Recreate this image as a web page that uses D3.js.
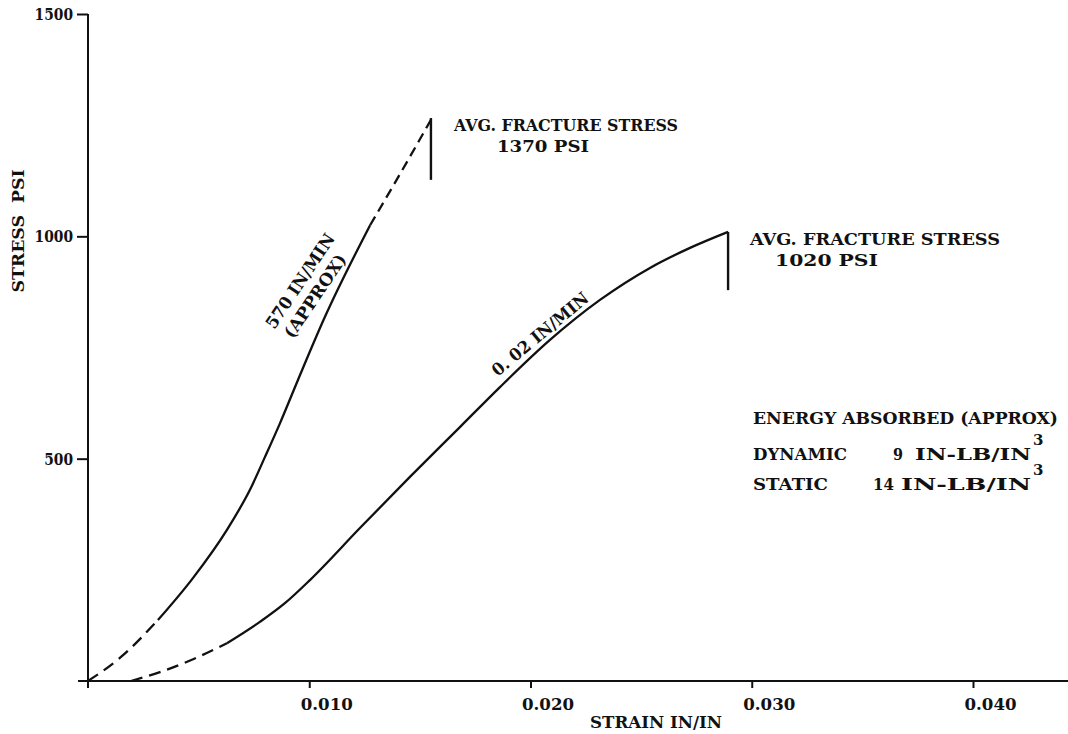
<!DOCTYPE html>
<html>
<head>
<meta charset="utf-8">
<script src="https://cdn.jsdelivr.net/npm/d3@7"></script>
<style>
  body { margin: 0; background: #fff; }
  text { font-family: "DejaVu Serif", "Liberation Serif", serif; fill: #111; }
</style>
</head>
<body>
<svg id="chart" width="1068" height="734"></svg>
<script>
// Stress-strain curves, 570 in/min (dynamic) and 0.02 in/min (static)
const dynamicStrain = [0, 0.00149, 0.00316, 0.00475, 0.00628, 0.00732, 0.00800, 0.00868, 0.00949, 0.01071, 0.01275, 0.01410, 0.01550];
const dynamicStress = [0, 54, 137, 232, 340, 430, 504, 580, 677, 819, 1025, 1140, 1262];
// index range of the solid part of each curve; the rest is dashed
const dynamicSolidRange = [2, 10];

const staticStrain = [0.00194, 0.00325, 0.00475, 0.00628, 0.00777, 0.00890, 0.01003, 0.01229, 0.01455, 0.01681, 0.01862, 0.02088, 0.02314, 0.02540, 0.02721, 0.02893];
const staticStress = [0, 20, 49, 85, 133, 175, 227, 344, 459, 571, 661, 767, 857, 929, 974, 1010];
const staticSolidRange = [3, 15];

// fracture markers: top and bottom of the vertical stroke at the end of each curve
const fractureTop = [1266, 1010];
const fractureBottom = [1127, 879];
const fractureStress = [1370, 1020];

const xTicks = [0.010, 0.020, 0.030, 0.040];
const yTicks = [500, 1000, 1500];
const xTickLabels = ["0.010", "0.020", "0.030", "0.040"];
const yTickLabels = ["500", "1000", "1500"];

const energyRows = ["DYNAMIC", "STATIC"];
const energyValues = [9, 14];

const svg = d3.select("#chart");

const x = d3.scaleLinear().domain([0, 0.040]).range([88, 973]);
const y = d3.scaleLinear().domain([0, 1500]).range([681, 14]);

const ink = "#111";

// axis lines
svg.append("line")
  .attr("x1", x(-0.00045)).attr("x2", x(0.0443))
  .attr("y1", y(0)).attr("y2", y(0))
  .attr("stroke", ink).attr("stroke-width", 2);
svg.append("line")
  .attr("x1", x(0)).attr("x2", x(0))
  .attr("y1", y(1500)).attr("y2", y(-16))
  .attr("stroke", ink).attr("stroke-width", 2);

// y axis ticks and labels
const yAxis = svg.append("g")
  .attr("transform", `translate(${x(0)},0)`)
  .call(d3.axisLeft(y).tickValues(yTicks).tickSize(11).tickPadding(4)
        .tickFormat((d, i) => yTickLabels[i]));
yAxis.select(".domain").remove();
yAxis.selectAll(".tick line").attr("stroke", ink).attr("stroke-width", 2);
yAxis.selectAll(".tick text")
  .attr("font-family", "DejaVu Serif").attr("font-size", 16).attr("font-weight", "bold")
  .attr("fill", ink).attr("dy", "0.34em")
  .attr("textLength", (d, i) => yTickLabels[i].length * 9.6)
  .attr("lengthAdjust", "spacingAndGlyphs");

// x axis ticks and labels
const xAxis = svg.append("g")
  .attr("transform", `translate(0,${y(0)})`)
  .call(d3.axisBottom(x).tickValues(xTicks).tickSize(7)
        .tickFormat((d, i) => xTickLabels[i]));
xAxis.select(".domain").remove();
xAxis.selectAll(".tick line").attr("stroke", ink).attr("stroke-width", 2);
xAxis.selectAll(".tick text")
  .attr("font-family", "DejaVu Serif").attr("font-size", 16).attr("font-weight", "bold")
  .attr("fill", ink)
  .attr("text-anchor", "start").attr("x", -9).attr("y", 29).attr("dy", 0)
  .attr("textLength", 52).attr("lengthAdjust", "spacingAndGlyphs");

// axis titles
svg.append("text")
  .attr("transform", "translate(24,231) rotate(-90)")
  .attr("text-anchor", "middle")
  .attr("font-size", 17).attr("font-weight", "bold")
  .attr("textLength", 123).attr("lengthAdjust", "spacingAndGlyphs")
  .attr("xml:space", "preserve")
  .text("STRESS  PSI");
svg.append("text")
  .attr("x", 590).attr("y", 728)
  .attr("font-size", 16).attr("font-weight", "bold")
  .attr("textLength", 132).attr("lengthAdjust", "spacingAndGlyphs")
  .text("STRAIN IN/IN");

// curves
const line = d3.line()
  .x(d => x(d[0]))
  .y(d => y(d[1]))
  .curve(d3.curveMonotoneX);

function drawCurve(strain, stress, solidRange, dashes) {
  const pts = strain.map((s, i) => [s, stress[i]]);
  const [a, b] = solidRange;
  const segs = [
    { p: pts.slice(0, a + 1), dash: dashes[0] },
    { p: pts.slice(a, b + 1), dash: null },
    { p: pts.slice(b), dash: dashes[1] }
  ];
  segs.forEach(s => {
    if (s.p.length < 2) return;
    svg.append("path")
      .attr("d", line(s.p))
      .attr("fill", "none")
      .attr("stroke", ink)
      .attr("stroke-width", 2.3)
      .attr("stroke-dasharray", s.dash);
  });
}

drawCurve(dynamicStrain, dynamicStress, dynamicSolidRange, ["12 7", "10 6"]);
drawCurve(staticStrain, staticStress, staticSolidRange, ["12 7", null]);

// fracture markers
const ends = [dynamicStrain[dynamicStrain.length - 1], staticStrain[staticStrain.length - 1]];
ends.forEach((s, i) => {
  svg.append("line")
    .attr("x1", x(s)).attr("x2", x(s))
    .attr("y1", y(fractureTop[i])).attr("y2", y(fractureBottom[i]))
    .attr("stroke", ink).attr("stroke-width", 2.4);
});

const fs = 17;

// fracture annotations
const annot = [
  { x: 454, y: 131, w: 224, x2: 497, y2: 152, w2: 92 },
  { x: 750, y: 245, w: 250, x2: 775, y2: 266, w2: 103 }
];
annot.forEach((a, i) => {
  svg.append("text").attr("x", a.x).attr("y", a.y)
    .attr("font-size", fs).attr("font-weight", "bold")
    .attr("textLength", a.w).attr("lengthAdjust", "spacingAndGlyphs")
    .text("AVG. FRACTURE STRESS");
  svg.append("text").attr("x", a.x2).attr("y", a.y2)
    .attr("font-size", fs).attr("font-weight", "bold")
    .attr("textLength", a.w2).attr("lengthAdjust", "spacingAndGlyphs")
    .text(`${fractureStress[i]} PSI`);
});

// rate labels along the curves
function rotLabel(txt, cx, cy, ang, len) {
  svg.append("text")
    .attr("transform", `translate(${cx},${cy}) rotate(${ang})`)
    .attr("text-anchor", "middle").attr("dominant-baseline", "central")
    .attr("font-size", fs).attr("font-weight", "bold")
    .attr("textLength", len).attr("lengthAdjust", "spacingAndGlyphs")
    .text(txt);
}
rotLabel("570 IN/MIN", 300, 281, -56.3, 110);
rotLabel("(APPROX)", 315, 296, -56.0, 97);
rotLabel("0. 02 IN/MIN", 540, 334, -39.7, 120);

// energy absorbed block
svg.append("text").attr("x", 753).attr("y", 424)
  .attr("font-size", fs).attr("font-weight", "bold")
  .attr("textLength", 305).attr("lengthAdjust", "spacingAndGlyphs")
  .text("ENERGY ABSORBED (APPROX)");

const rowY = [460, 490];
const rowLabelW = [94, 75];
const valueX = [893, 873];
const valueW = [10, 21];
const unitX = [915, 901];
energyRows.forEach((r, i) => {
  svg.append("text").attr("x", 753).attr("y", rowY[i])
    .attr("font-size", fs).attr("font-weight", "bold")
    .attr("textLength", rowLabelW[i]).attr("lengthAdjust", "spacingAndGlyphs")
    .text(r);
  svg.append("text").attr("x", valueX[i]).attr("y", rowY[i])
    .attr("font-size", fs).attr("font-weight", "bold")
    .attr("textLength", valueW[i]).attr("lengthAdjust", "spacingAndGlyphs")
    .text(energyValues[i]);
  svg.append("text").attr("x", unitX[i]).attr("y", rowY[i])
    .attr("font-size", fs).attr("font-weight", "bold")
    .attr("textLength", 1031 - unitX[i]).attr("lengthAdjust", "spacingAndGlyphs")
    .text("IN-LB/IN");
  svg.append("text").attr("x", 1033).attr("y", rowY[i] - 15)
    .attr("font-size", 15).attr("font-weight", "bold")
    .text("3");
});
</script>
</body>
</html>
